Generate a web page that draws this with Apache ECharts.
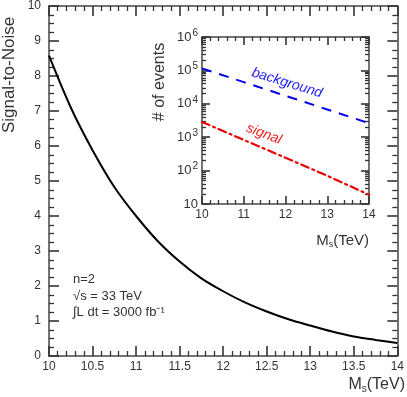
<!DOCTYPE html>
<html>
<head>
<meta charset="utf-8">
<script src="https://cdn.jsdelivr.net/npm/echarts@6/dist/echarts.min.js"></script>
<style>
  html, body { margin: 0; padding: 0; background: #fff; }
  #chart { width: 407px; height: 397px; }
</style>
</head>
<body>
<div id="chart"></div>
<script>
// main plot: signal-to-noise vs M_s
const massGrid = [10, 10.25, 10.5, 10.75, 11, 11.25, 11.5, 11.75, 12, 12.25, 12.5, 12.75, 13, 13.25, 13.5, 13.75, 14];
const snRatio = [8.58, 7.1, 5.88, 4.83, 4.0, 3.28, 2.7, 2.22, 1.85, 1.53, 1.27, 1.05, 0.87, 0.7, 0.56, 0.46, 0.37];

// inset: number of events
const insetMass = [10, 11, 12, 13, 14];
const backgroundEvents = [115000, 44700, 17400, 6760, 2630];
const signalEvents = [2870, 830, 242, 70, 19];

const infoLines = ['n=2', '√s = 33 TeV', '∫L dt = 3000 fb⁻¹'];

const font = 'Liberation Sans, Helvetica, Arial, sans-serif';
const axisCol = '#444';
const textCol = '#333';

const chart = echarts.init(document.getElementById('chart'));

function toPairs(xs, ys) {
  return xs.map((x, i) => [x, ys[i]]);
}

// one axis with inside ticks; every call builds fresh objects
function axis(cfg) {
  const major = cfg.tickLen || 10;
  return {
    type: cfg.type || 'value',
    gridIndex: cfg.grid,
    position: cfg.position,
    min: cfg.min,
    max: cfg.max,
    interval: cfg.interval,
    logBase: cfg.logBase,
    axisLine: { show: true, onZero: false, lineStyle: { color: axisCol, width: 1.5 } },
    axisTick: { show: true, inside: true, length: major, lineStyle: { color: '#333', width: 1.6 } },
    minorTick: { show: true, splitNumber: cfg.minor, length: major / 2, lineStyle: { color: '#333', width: 1.3 } },
    splitLine: { show: false },
    axisLabel: cfg.label ? Object.assign({ color: textCol, fontFamily: font, fontSize: 12 }, cfg.label) : { show: false }
  };
}

function logLabel(v) {
  const p = Math.round(Math.log10(v));
  return p === 1 ? '10' : '10{sup|' + p + '}';
}

const option = {
  animation: false,
  backgroundColor: '#fff',
  grid: [
    { left: 49, top: 5, right: 8, bottom: 41 },
    { left: 202, top: 37, right: 38, bottom: 193, show: true, backgroundColor: '#fff', borderWidth: 0 }
  ],
  xAxis: [
    axis({ grid: 0, min: 10, max: 14, interval: 0.5, minor: 5, label: { margin: 5 } }),
    axis({ grid: 0, min: 10, max: 14, interval: 0.5, minor: 5, position: 'top' }),
    axis({ grid: 1, min: 10, max: 14, interval: 1, minor: 5, tickLen: 8, label: { margin: 5 } }),
    axis({ grid: 1, min: 10, max: 14, interval: 1, minor: 5, tickLen: 8, position: 'top' })
  ],
  yAxis: [
    axis({ grid: 0, min: 0, max: 10, interval: 1, minor: 4, label: { margin: 8 } }),
    axis({ grid: 0, min: 0, max: 10, interval: 1, minor: 4, position: 'right' }),
    axis({ grid: 1, type: 'log', logBase: 10, min: 10, max: 1000000, minor: 9, tickLen: 8,
      label: {
        fontSize: 13, margin: 4, formatter: logLabel,
        rich: { sup: { fontSize: 10, fontFamily: font, color: textCol, padding: [0, 0, 8, 1] } }
      } }),
    axis({ grid: 1, type: 'log', logBase: 10, min: 10, max: 1000000, minor: 9, tickLen: 8, position: 'right' })
  ],
  series: [
    {
      type: 'line', xAxisIndex: 0, yAxisIndex: 0, smooth: 0.3, showSymbol: false,
      data: toPairs(massGrid, snRatio),
      lineStyle: { color: '#000', width: 2 }
    },
    {
      type: 'line', xAxisIndex: 2, yAxisIndex: 2, showSymbol: false,
      data: toPairs(insetMass, backgroundEvents),
      lineStyle: { color: '#0000ee', width: 2, type: [10, 8] }
    },
    {
      type: 'line', xAxisIndex: 2, yAxisIndex: 2, showSymbol: false,
      data: toPairs(insetMass, signalEvents),
      lineStyle: { color: '#ee0000', width: 2.2, type: [8, 4, 2, 4], cap: 'round' }
    }
  ],
  graphic: [
    {
      type: 'text', x: 9, y: 75, rotation: Math.PI / 2,
      style: { text: 'Signal-to-Noise', font: '17px ' + font, fill: textCol, align: 'center', verticalAlign: 'middle' }
    },
    {
      type: 'text', x: 405, y: 385,
      style: {
        text: 'M{sub|s}(TeV)', font: '16px ' + font, fill: textCol, align: 'right', verticalAlign: 'middle',
        rich: { sub: { fontSize: 10, fontFamily: font, fill: textCol, padding: [8, 0, 0, 0] } }
      }
    },
    {
      type: 'text', x: 369, y: 241,
      style: {
        text: 'M{sub|s}(TeV)', font: '15px ' + font, fill: textCol, align: 'right', verticalAlign: 'middle',
        rich: { sub: { fontSize: 9, fontFamily: font, fill: textCol, padding: [8, 0, 0, 0] } }
      }
    },
    {
      type: 'text', x: 160, y: 82, rotation: Math.PI / 2,
      style: { text: '# of events', font: '16px ' + font, fill: textCol, align: 'center', verticalAlign: 'middle' }
    },
    {
      type: 'text', x: 287, y: 83, rotation: -0.3,
      style: { text: 'background', font: 'italic 14px ' + font, fill: '#2222ee', align: 'center', verticalAlign: 'middle' }
    },
    {
      type: 'text', x: 264, y: 134, rotation: -0.36,
      style: { text: 'signal', font: 'italic 14px ' + font, fill: '#ee2222', align: 'center', verticalAlign: 'middle' }
    },
    {
      type: 'text', x: 73, y: 296,
      style: { text: infoLines.join('\n'), font: '13px ' + font, fill: textCol, lineHeight: 16.5, align: 'left', verticalAlign: 'middle' }
    }
  ]
};

chart.setOption(option);
</script>
</body>
</html>
